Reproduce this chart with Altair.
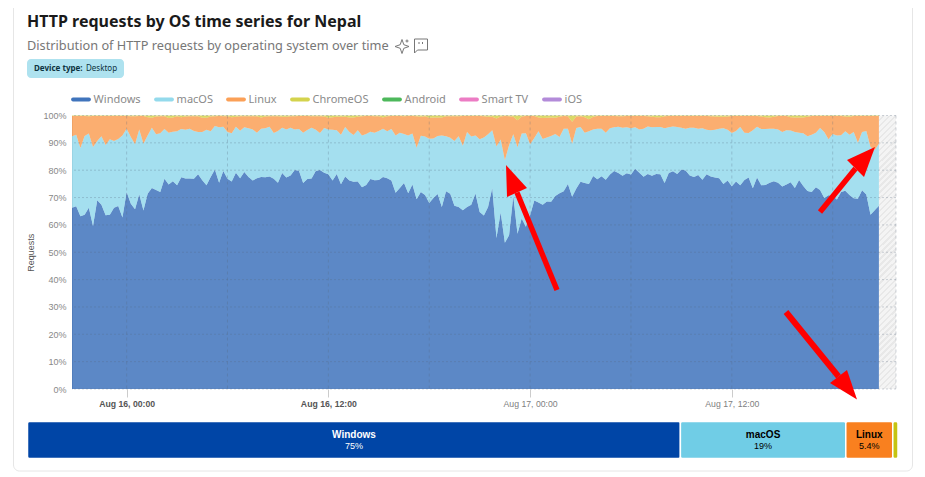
import altair as alt
import pandas as pd

series_names = ["Windows", "macOS", "Linux", "ChromeOS", "Android", "Smart TV", "iOS"]
series_colors = ["#0045a6", "#70cde6", "#f9801f", "#c5c412", "#12a024", "#e650b0", "#9a64cc"]

windows = [66.3,66.8,63.2,63.7,66.3,59.6,69,67.4,63.5,63.7,66.3,66.9,62.7,72,67.7,65.7,71.2,65.3,71.4,73.5,72.8,72,76.9,74.8,76,74.5,77.4,77,77,76.9,78.5,76.3,74.5,77.5,80.3,75.4,79.7,76.9,75.9,79.1,77.1,79.3,77.5,76.2,77.1,77.5,77.4,77.7,76.9,
75.4,79,77.3,78.1,80.1,79.8,75.3,76.8,77,79.7,80.1,79.1,78.5,76.2,78.6,74.9,77.7,76.2,75.8,75.9,73.8,74.6,76.8,76.3,76.4,77.5,77.1,76.2,71.8,73.5,75.3,71.6,74.8,69.4,72,70.9,68,69.8,71.3,66.5,72.3,71.4,67,66.5,65.4,66.5,67.4,71.5,
64.7,63.4,66.5,73.5,55.2,64.5,53.5,56.2,70.6,56.8,62.3,59.3,63.5,68.9,68.2,67.4,68.6,68.5,70.6,71.6,72.3,75,70.3,73.3,75.8,75.3,75,77.9,76.7,77.8,76.5,78.4,79.7,79,78,78.9,78.4,80.5,79.1,77.6,78.6,78,78.6,78.5,75.3,79,79.6,78.6,
80.3,79.9,78.1,77.5,78.2,76.5,78.5,77.7,77.3,77.1,75,76.2,74.1,75.9,74.5,76.4,77.3,73.4,77.3,74.5,74.6,75.4,76,75.4,74,74.8,75.6,73.5,76.4,74.2,72.4,72,73.8,72.8,69.8,70.8,70.6,69.3,72,72.5,70.9,69.7,69.6,72.7,71.1,63.7,65.4,67]

windows_plus_macos = [92.4,93,88.1,92.5,93.4,88.5,90.7,92.4,89.2,91.3,90.7,91.4,92.7,95.2,92.1,89.5,94.9,89.7,92.7,95.5,93.1,93.5,95.1,93.7,94.1,94.2,95.1,94.8,95.2,94.3,94,94,94.8,94.2,96.2,95.7,95.9,94,93.5,95.9,94.4,95.7,95.3,94.9,93.7,95.2,95.3,95.9,93.6,
94.3,95.5,94.9,95.5,94.9,95.1,93.7,94.7,95.5,94.8,93.6,95.4,94.9,94.8,94.6,93,95.8,94,92.9,94.6,92.7,93.2,94.1,93.7,94.3,95.2,94.2,95.1,92.7,93.7,93.2,92.7,93.4,88.2,92.6,92.3,91.5,91.6,92.5,92.7,92.4,91.9,90.7,92.4,88.9,94,92.3,92.7,
91.3,92,93.1,94.6,88.7,91.2,83.6,89.1,93.1,88.4,93.4,93.5,89.5,91.8,94.2,91.4,92,92.5,93.2,92.1,95.2,95.2,89.7,95.4,95.8,93.7,94.2,94.9,95.2,95.2,93.7,95.3,95.7,95.9,95.5,95.7,95.3,95.7,94.9,95.2,96,95.7,95.8,95.8,95.3,95.7,96,95.8,
95.5,95.2,95.5,95.5,95.2,95.3,94.8,94.6,94.8,95.2,95.3,94.8,93.6,94.3,95.8,93.7,93.6,94.6,95.9,95.1,95.1,95.2,95.2,94.9,94,94.6,94.5,94,93.7,93.5,92.4,93,93.7,95.4,94,91.3,93.2,92.7,92.8,94.2,93,94,90,94,94.3,88.5,87.4,89.7]

chromeos = [0.2,0.2,0.2,0.2,0.3,0.2,0.2,0.2,0.2,0.2,0.2,0.2,0.2,0.2,0.3,0.3,0.2,0.2,0.6,0.8,0.4,0.3,0.3,0.9,0.7,0.3,0.6,0.4,0.3,0.3,0.3,0.8,0.8,0.4,0.3,0.2,0.3,0.3,0.6,0.5,0.3,0.3,0.3,0.3,0.3,0.7,0.4,0.3,0.3,
0.3,0.5,0.5,0.3,0.3,0.2,0.2,0.2,0.3,0.3,0.3,0.4,0.8,0.6,0.5,0.5,0.5,0.7,0.7,0.5,0.3,0.2,0.2,0.3,0.3,0.7,0.3,0.2,0.2,0.2,0.3,0.2,0.2,0.3,0.5,0.3,0.8,0.7,0.7,0.7,0.3,0.3,0.3,0.3,0.2,0.2,0.2,0.2,
0.2,0.3,0.5,0.5,1.1,0.4,0.2,0.3,0.5,1.7,0.4,0.2,0.2,0.2,0.7,0.9,0.8,0.7,0.8,0.5,0.2,0.3,2.3,0.4,0.3,0.6,1.4,0.5,0.2,0.2,0.2,0.2,0.2,0.3,0.3,0.2,0.2,0.2,0.2,0.2,0.3,0.5,0.6,0.6,0.3,0.2,0.2,0.2,
0.2,0.2,0.2,0.2,0.2,0.2,0.2,0.3,0.4,0.5,0.5,0.4,0.2,0.2,0.2,0.2,0.2,0.2,0.2,0.4,0.6,0.7,0.5,0.2,0.2,0.2,0.6,0.7,0.7,0.7,0.5,0.2,0.2,0.2,0.2,0.2,0.2,0.2,0.2,0.4,0.5,0.2,0.2,0.2,0.2,0.2,0.2,0.2]

strip_names = ["Windows", "macOS", "Linux", "ChromeOS"]
strip_values = [75, 19, 5.4, 0.6]
strip_labels = ["75%", "19%", "5.4%", ""]
strip_colors = ["#0045a6", "#70cde6", "#f9801f", "#c5c412"]
strip_text_colors = ["#ffffff", "#000000", "#000000", "#000000"]

start_time = pd.Timestamp("2025-08-15T20:45:00Z")
end_time = pd.Timestamp("2025-08-17T20:45:00Z")
axis_end_time = pd.Timestamp("2025-08-17T21:46:00Z")
label_times = ["2025-08-16T00:00:00Z", "2025-08-16T12:00:00Z", "2025-08-17T00:00:00Z", "2025-08-17T12:00:00Z"]
grid_times = ["2025-08-16T00:00:00Z", "2025-08-16T06:00:00Z", "2025-08-16T12:00:00Z", "2025-08-16T18:00:00Z",
              "2025-08-17T00:00:00Z", "2025-08-17T06:00:00Z", "2025-08-17T12:00:00Z", "2025-08-17T18:00:00Z",
              "2025-08-17T21:46:00Z"]
percent_ticks = [0, 10, 20, 30, 40, 50, 60, 70, 80, 90, 100]

times = pd.date_range(start_time, end_time, freq="15min")
assert len(times) == len(windows) == len(windows_plus_macos) == len(chromeos)

rows = []
for i, t in enumerate(times):
    iso = t.strftime("%Y-%m-%dT%H:%M:%SZ")
    parts = [windows[i], windows_plus_macos[i] - windows[i], 100 - chromeos[i] - windows_plus_macos[i], chromeos[i]]
    for k, v in enumerate(parts):
        rows.append({"time": iso, "os": series_names[k], "rank": k, "share": round(v, 2)})
table = pd.DataFrame(rows)

OX, OY = 72, 115.5
PW, PH = 824, 273.5
x_scale = alt.Scale(type="utc", domain=[start_time.strftime("%Y-%m-%dT%H:%M:%SZ"), axis_end_time.strftime("%Y-%m-%dT%H:%M:%SZ")])
y_scale = alt.Scale(domain=[0, 100], nice=False)
CHART_FONT = "Liberation Sans"
UI_FONT = "Noto Sans"

bold_test = "datum.value < datetime('2025-08-16T18:00:00Z')"
x_axis = alt.Axis(
    values=label_times, grid=False, domain=False, tickSize=8, tickColor="#cccccc", title=None,
    labelFont=CHART_FONT, labelFontSize=8.7, labelPadding=2,
    labelColor=alt.expr(f"{bold_test} ? '#555555' : '#808080'"),
    labelExpr="utcFormat(datum.value, '%b %d, %H:%M')",
    labelFontWeight=alt.expr(f"{bold_test} ? 'bold' : 'normal'"),
    labelOverlap=False, labelFlush=False)
y_axis = alt.Axis(
    values=percent_ticks, grid=False, ticks=False, domain=True, domainColor="#e0e0e0", title="Requests",
    labelExpr="datum.value + '%'", labelFont=CHART_FONT, labelFontSize=9, labelColor="#888888",
    labelPadding=6, titleFont=CHART_FONT, titleFontSize=9, titleFontWeight="normal",
    titleColor="#555555", titleX=-36.5)


def text_layer(label, px, py, size, color, weight="normal", font=UI_FONT, align="left"):
    mark = dict(align=align, baseline="middle", fontSize=size, color=color, fontWeight=weight, font=font)
    return alt.Chart(pd.DataFrame({"label": [label]})).mark_text(**mark).encode(
        x=alt.value(px - OX), y=alt.value(py - OY), text="label:N")


def path_layer(points, color="#ff0000"):
    d = "M" + " L".join(f"{px - OX:.1f},{py - OY:.1f}" for px, py in points) + " Z"
    return alt.Chart(pd.DataFrame({"a": [0]})).mark_point(
        shape=d, size=4, filled=True, fill=color, stroke=None, opacity=1
    ).encode(x=alt.value(0), y=alt.value(0))


def icon_layer(d, px, py):
    return alt.Chart(pd.DataFrame({"a": [0]})).mark_point(
        shape=d, size=4, filled=False, stroke="#777777", strokeWidth=1, opacity=1
    ).encode(x=alt.value(px - OX), y=alt.value(py - OY))


def arrow_layers(tail, tip, left, right, width=5.5):
    dx, dy = tip[0] - tail[0], tip[1] - tail[1]
    n = (dx * dx + dy * dy) ** 0.5
    ux, uy = dx / n, dy / n
    nx, ny = -uy * width / 2, ux * width / 2
    mx, my = (left[0] + right[0]) / 2, (left[1] + right[1]) / 2
    shaft = [(tail[0] + nx, tail[1] + ny), (tail[0] - nx, tail[1] - ny), (mx - nx, my - ny), (mx + nx, my + ny)]
    return [path_layer(shaft), path_layer([tip, left, right])]


card = alt.Chart(pd.DataFrame({"a": [0]})).mark_rect(
    fill="transparent", stroke="#e6e6e6", strokeWidth=1, cornerRadius=6
).encode(x=alt.value(13.5 - OX), x2=alt.value(912.5 - OX), y=alt.value(-140), y2=alt.value(471 - OY))

badge = alt.Chart(pd.DataFrame({"a": [0]})).mark_rect(fill="#aee2ef", cornerRadius=4).encode(
    x=alt.value(27 - OX), x2=alt.value(124 - OX), y=alt.value(59 - OY), y2=alt.value(78 - OY))

header = [
    card,
    text_layer("HTTP requests by OS time series for Nepal", 27, 21.5, 16, "#1a1a1a", "bold"),
    text_layer("Distribution of HTTP requests by operating system over time", 27, 46, 12.75, "#777777"),
    icon_layer("M0,-7 L1.8,-1.8 L7,0 L1.8,1.8 L0,7 L-1.8,1.8 L-7,0 L-1.8,-1.8 Z M5,-7 L5,-4 M3.5,-5.5 L6.5,-5.5", 402, 46.5),
    icon_layer("M-6.5,-6 L6.5,-6 L6.5,5 L-3.5,5 L-6.5,8 Z M-2,-3 L-2,-1 M1.5,-3 L1.5,-1", 421, 45),
    badge,
    text_layer("Device type:", 34, 69, 8, "#0d3340", "bold"),
    text_layer("Desktop", 86, 69, 8, "#0d3340"),
]

# diagonal hatch for the part of the time axis with no data yet
stops = []
periods = 48
for i in range(periods):
    a = i / periods
    b = (i + 0.6) / periods
    c = (i + 1) / periods
    stops += [
        alt.GradientStop(offset=a, color="#f4f4f4"), alt.GradientStop(offset=b, color="#f4f4f4"),
        alt.GradientStop(offset=b, color="#e8e8e8"), alt.GradientStop(offset=c, color="#e8e8e8"),
    ]
hatch_fill = alt.LinearGradient(gradient="linear", x1=0, y1=0, x2=0.0658, y2=1.0614, stops=stops)
hatch = alt.Chart(pd.DataFrame({
    "a": [end_time.strftime("%Y-%m-%dT%H:%M:%SZ")],
    "b": [axis_end_time.strftime("%Y-%m-%dT%H:%M:%SZ")],
    "y0": [0], "y1": [100],
})).mark_rect(fill=hatch_fill, opacity=1).encode(
    x=alt.X("a:T", scale=x_scale, axis=x_axis), x2="b:T",
    y=alt.Y("y0:Q", scale=y_scale, axis=y_axis), y2="y1:Q")

areas = alt.Chart(table).mark_area(opacity=0.64, interpolate="linear", line=False).encode(
    x=alt.X("time:T", scale=x_scale, axis=x_axis),
    y=alt.Y("share:Q", stack="zero", scale=y_scale, axis=y_axis),
    color=alt.Color("os:N", scale=alt.Scale(domain=series_names, range=series_colors), title=None,
                    legend=alt.Legend(orient="none", legendX=1, legendY=-24, direction="horizontal",
                                      columns=7, title=None,
                                      symbolType="M-1,-0.24 L1,-0.24 A0.24,0.24 0 0 1 1,0.24 L-1,0.24 A0.24,0.24 0 0 1 -1,-0.24 Z",
                                      symbolSize=256, symbolOpacity=0.75, symbolStrokeWidth=0,
                                      labelFont=UI_FONT, labelFontSize=11, labelColor="#8a8a8a",
                                      labelOffset=4.6, columnPadding=13)),
    order=alt.Order("rank:Q"),
)

h_grid = alt.Chart(pd.DataFrame({"p": percent_ticks})).mark_rule(
    color="#56687f", opacity=0.28, strokeDash=[2, 2], strokeWidth=1
).encode(y=alt.Y("p:Q", scale=y_scale, axis=y_axis))
v_grid = alt.Chart(pd.DataFrame({"t": grid_times})).mark_rule(
    color="#56687f", opacity=0.28, strokeDash=[3, 3], strokeWidth=1
).encode(x=alt.X("t:T", scale=x_scale, axis=x_axis))

main = alt.layer(hatch, areas, h_grid, v_grid)

start = 0
strip_rows = []
for name, v, lab, col, tc in zip(strip_names, strip_values, strip_labels, strip_colors, strip_text_colors):
    strip_rows.append({"name": name, "a": start, "b": start + v, "mid": start + v / 2, "label": lab, "col": col, "tc": tc})
    start += v
strip_df = pd.DataFrame(strip_rows)
strip_scale = alt.Scale(domain=[0, 100], range=[27.5 - OX, 898 - OX], nice=False, zero=False)

strip_bars = alt.Chart(strip_df).mark_rect(cornerRadius=2, stroke="#ffffff", strokeWidth=1.5).encode(
    x=alt.X("a:Q", scale=strip_scale, axis=None), x2="b:Q",
    y=alt.value(421.5 - OY), y2=alt.value(458.5 - OY),
    fill=alt.Fill("col:N", scale=None))
strip_names_text = alt.Chart(strip_df[strip_df["label"] != ""]).mark_text(
    font=CHART_FONT, fontSize=10, fontWeight="bold", baseline="middle", align="center"
).encode(x=alt.X("mid:Q", scale=strip_scale, axis=None), y=alt.value(434.5 - OY), text="name:N",
         color=alt.Color("tc:N", scale=None))
strip_vals_text = alt.Chart(strip_df[strip_df["label"] != ""]).mark_text(
    font=CHART_FONT, fontSize=9, baseline="middle", align="center"
).encode(x=alt.X("mid:Q", scale=strip_scale, axis=None), y=alt.value(445.5 - OY), text="label:N",
         color=alt.Color("tc:N", scale=None))

arrows = (
    arrow_layers((557, 290), (506, 165), (507, 197), (527, 188))
    + arrow_layers((820, 212), (875, 147), (847, 160), (864, 177))
    + arrow_layers((786, 312), (857, 399.5), (830, 383), (847, 370), width=6)
)

chart = alt.layer(
    *header, main, strip_bars, strip_names_text, strip_vals_text, *arrows
).resolve_scale(x="independent", color="independent").properties(
    width=PW, height=PH,
    padding={"left": OX - 8, "top": OY - 8, "right": 909 - (OX - 8) - PW, "bottom": 465 - (OY - 8) - PH},
    autosize=alt.AutoSizeParams(type="none"),
).configure_view(stroke=None)

chart.save("out.html", embed_options={"renderer": "svg", "actions": False})
